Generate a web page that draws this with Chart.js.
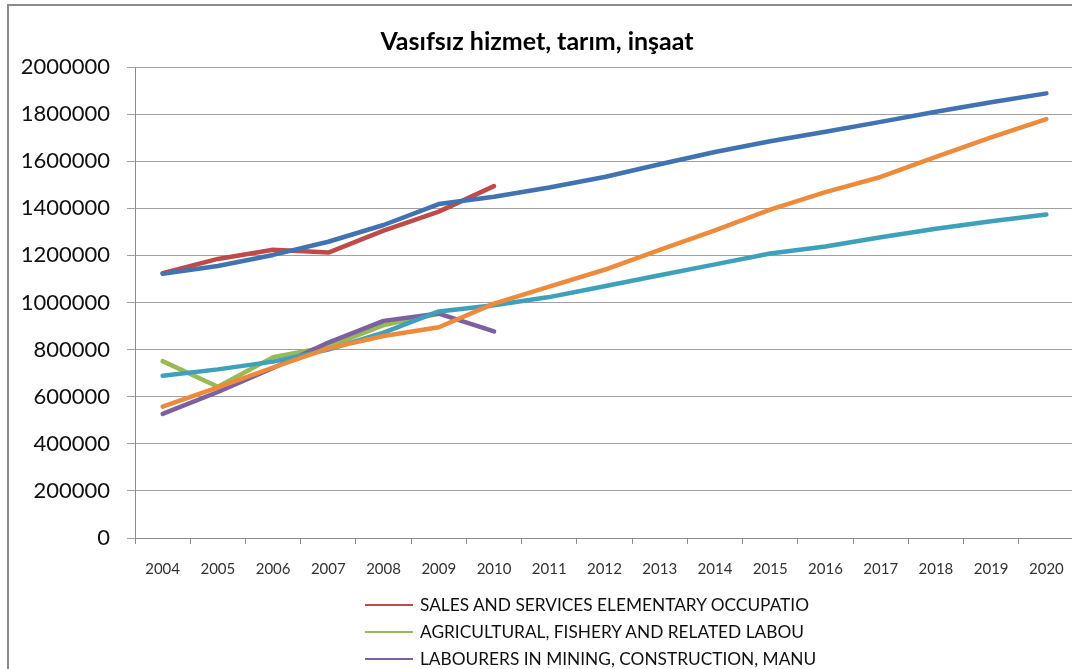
<!DOCTYPE html>
<html>
<head>
<meta charset="utf-8">
<script src="https://cdn.jsdelivr.net/npm/chart.js@4/dist/chart.umd.min.js"></script>
<style>
  html, body { margin: 0; padding: 0; background: #fff; overflow: hidden; }
  body { width: 1072px; height: 669px; position: relative; font-family: Lato, 'Open Sans', sans-serif; }
  .frame { position: absolute; left: 7px; top: 4px; width: 2000px; height: 2000px; border-left: 2px solid #8c8c8c; border-top: 2px solid #8c8c8c; }
  .wrap { position: absolute; left: 0; top: 0; width: 1080px; height: 600px; }
  .legend { position: absolute; left: 365px; top: 591px; font-size: 17.3px; color: #111; }
  .legend .row { height: 27px; line-height: 27px; display: flex; align-items: center; white-space: nowrap; }
  .legend .swatch { width: 48px; height: 2px; margin-right: 7px; }
</style>
</head>
<body>
<div class="frame"></div>
<div class="wrap"><canvas id="chart" width="1080" height="600"></canvas></div>
<div class="legend" id="legend"></div>
<script>
const years = ['2004', '2005', '2006', '2007', '2008', '2009', '2010', '2011', '2012', '2013', '2014', '2015', '2016', '2017', '2018', '2019', '2020'];

const yMax = 2000000;
const yStep = 200000;

// series shown in the legend (actual values, end in 2009/2010)
const salesServices = [1124000, 1185000, 1224000, 1212000, 1305000, 1386000, 1494000];
const agriculture = [751000, 642000, 768000, 812000, 904000, 952000];
const mining = [527000, 620000, 722000, 830000, 922000, 953000, 877000];

// projected series (not listed in the visible legend)
const salesTrend = [1122000, 1155000, 1202000, 1258000, 1329000, 1418000, 1449000, 1488000, 1533000, 1587000, 1639000, 1685000, 1725000, 1767000, 1810000, 1850000, 1888000];
const agricultureTrend = [689000, 716000, 749000, 800000, 872000, 962000, 988000, 1023000, 1069000, 1116000, 1162000, 1208000, 1238000, 1277000, 1313000, 1345000, 1374000];
const miningTrend = [558000, 640000, 724000, 805000, 858000, 895000, 995000, 1067000, 1139000, 1223000, 1306000, 1394000, 1469000, 1533000, 1618000, 1701000, 1779000];

const legendNames = [
  'SALES AND SERVICES ELEMENTARY OCCUPATIO',
  'AGRICULTURAL, FISHERY AND RELATED LABOU',
  'LABOURERS IN MINING, CONSTRUCTION, MANU',
];

const line = (label, data, color, order, inLegend) => ({
  label,
  data,
  borderColor: color,
  backgroundColor: color,
  borderWidth: 4.5,
  pointRadius: 0,
  tension: 0,
  borderCapStyle: 'round',
  borderJoinStyle: 'round',
  fill: false,
  order,
  inLegend,
});

const datasets = [
  line(legendNames[0], salesServices, '#BE4B48', 6, true),
  line(legendNames[1], agriculture, '#98B954', 5, true),
  line(legendNames[2], mining, '#7D60A0', 4, true),
  line('Trend 1', salesTrend, '#4173B2', 3, false),
  line('Trend 2', agricultureTrend, '#3FA0BC', 2, false),
  line('Trend 3', miningTrend, '#EE8A3C', 1, false),
];

const chart = new Chart(document.getElementById('chart'), {
  type: 'line',
  data: { labels: years, datasets },
  options: {
    responsive: false,
    animation: false,
    devicePixelRatio: 1,
    layout: { padding: { left: 0, right: 6, top: 0, bottom: 22 } },
    plugins: {
      legend: { display: false },
      tooltip: { enabled: false },
      title: {
        display: true,
        text: 'Vasıfsız hizmet, tarım, inşaat',
        color: '#000',
        font: { family: 'Lato', size: 25, weight: 'bold' },
        padding: { top: 27, bottom: 10 },
      },
    },
    scales: {
      x: {
        offset: true,
        grid: { display: true, offset: true, drawOnChartArea: false, drawTicks: true, tickLength: 6, color: '#8c8c8c' },
        border: { display: true, color: '#8c8c8c', width: 1 },
        ticks: { color: '#333', font: { family: 'Lato', size: 15 }, padding: 16, maxRotation: 0, autoSkip: false },
        afterFit: (scale) => { scale.height = 40; },
      },
      y: {
        min: 0,
        max: yMax,
        grid: { color: '#a0a0a0', lineWidth: 1, tickLength: 8, drawTicks: true },
        border: { display: true, color: '#8c8c8c', width: 1 },
        ticks: {
          stepSize: yStep,
          color: '#111',
          font: { family: 'Lato', size: 22 },
          padding: 17,
          callback: (value) => String(value),
        },
        afterFit: (scale) => { scale.width = 135; },
      },
    },
  },
});

const legendEl = document.getElementById('legend');
chart.data.datasets.filter((ds) => ds.inLegend).forEach((ds) => {
  const row = document.createElement('div');
  row.className = 'row';
  row.innerHTML = `<span class="swatch" style="background:${ds.borderColor}"></span><span>${ds.label}</span>`;
  legendEl.appendChild(row);
});
</script>
</body>
</html>
